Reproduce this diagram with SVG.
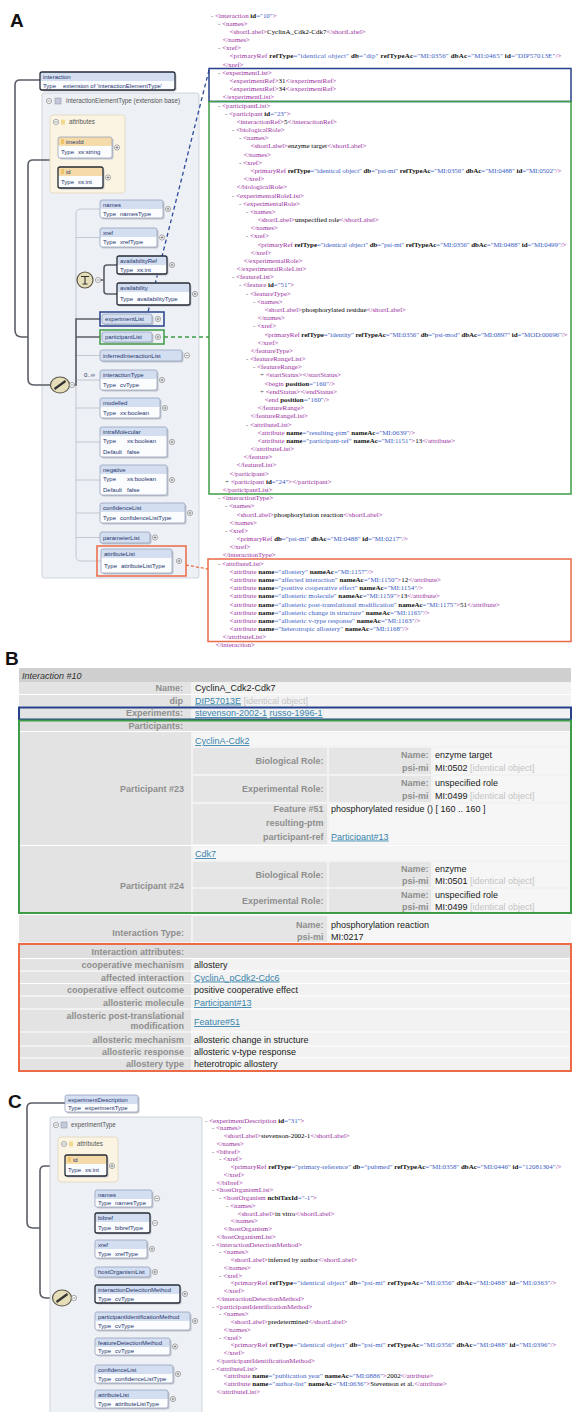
<svg xmlns="http://www.w3.org/2000/svg" width="573" height="1412" viewBox="0 0 573 1412">
<style>
.xm{font-family:"Liberation Serif","Times New Roman",serif;font-size:6.95px}
.t{fill:#9b2fa0}
.a{font-weight:bold;fill:#111}
.v{fill:#3b5cc4}
.m{fill:#555}
.sb{font-family:"Liberation Sans",Arial,sans-serif;font-size:6px;fill:#24346e}
.sg{font-family:"Liberation Sans",Arial,sans-serif;font-size:6.3px;fill:#555}
.sh{fill:#c2c6ce}
.bw{fill:#fbfcfe}
.bh{fill:#d3dff0}
.bo{fill:none;stroke:#8c9ab6;stroke-width:0.7}
.bd{fill:none;stroke:#262b36;stroke-width:1.3}
.lt{fill:none;stroke:#bfc4cc;stroke-width:0.9}
.dk{fill:none;stroke:#5a5e66;stroke-width:1.6}
.pl{font-family:"Liberation Sans",Arial,sans-serif;font-size:9px}
.lb{font-weight:bold;fill:#8e8e8e;text-anchor:end}
.vl{fill:#1a1a1a}
.lk{fill:#3a85ad;text-decoration:underline}
.io{fill:#c4c4c4}
.big{font-family:"Liberation Sans",Arial,sans-serif;font-weight:bold;font-size:19px;fill:#111}
.c1{fill:#e5e5e5}
.c2{fill:#f6f6f6}
.sep{stroke:#fff;stroke-width:1.2}
</style>
<defs>
<g id="pl"><circle r="2.6" fill="#fff" stroke="#707070" stroke-width="0.6"/><path d="M-1.5,0H1.5M0,-1.5V1.5" stroke="#555" stroke-width="0.6"/></g>
<g id="mn"><circle r="2.6" fill="#fff" stroke="#707070" stroke-width="0.6"/><path d="M-1.5,0H1.5" stroke="#555" stroke-width="0.6"/></g>
</defs>
<rect width="573" height="1412" fill="#fff"/>
<text class="big" x="10" y="27">A</text>
<text class="big" x="5" y="665">B</text>
<text class="big" x="8" y="1108">C</text>

<!-- Panel A schema -->
<g id="panel-interactionElementType">
<rect x="42" y="93" width="157" height="485" rx="2" fill="#edf0f5" stroke="#c5cad3" stroke-width="0.8"/>
<use href="#mn" x="49" y="101"/>
<rect x="55" y="98" width="6" height="6" fill="#c3c9da" stroke="#8a90a0" stroke-width="0.5"/>
<text class="sg" x="66" y="103.2">interactionElementType (extension base)</text>
</g>
<g id="connectors">
<path class="dk" d="M40,80 H20 Q15,80 15,85 V330 Q15,337 22,337 H28"/>
<path class="dk" d="M50,160 H33 Q28,160 28,165 V379 Q28,385 34,385 H51"/>
<path class="lt" d="M100,209 H81 Q76,209 76,214 V556 Q76,561 81,561 H101"/>
<path class="lt" d="M76,237.5 H100 M76,280 H77 M76,355.5 H100 M76,380 H100 M76,408 H100 M76,442 H100 M76,480 H100 M76,513 H100 M76,537.5 H100"/>
<path class="dk" d="M74.5,385 H76 V319 H100 M76,337 H100"/>
<path class="dk" d="M100.5,280 H104 V268 Q104,265 107,265 H117 M104,280 V291 Q104,294 107,294 H117"/>
<path d="M209,70 L148,312" fill="none" stroke="#2f4a9a" stroke-width="1.3" stroke-dasharray="4,3"/>
<path d="M164,337 H209" fill="none" stroke="#3f9c46" stroke-width="1.3" stroke-dasharray="4,3"/>
<path d="M186,565 L208,569" fill="none" stroke="#ec6a45" stroke-width="1.3" stroke-dasharray="3,2"/>
<path class="dk" d="M65,1103 H32 Q27,1103 27,1108 V1222 Q27,1228 33,1228 H40"/>
<path class="dk" d="M65,1166 H45 Q40,1166 40,1171 V1292 Q40,1298 46,1298 H53"/>
<path class="lt" d="M95,1198 H91 Q86,1198 86,1203 V1394 Q86,1399 91,1399 H95"/>
<path class="lt" d="M86,1249 H95 M86,1272 H95 M86,1321 H95 M86,1346.5 H95 M86,1374 H95"/>
<path class="dk" d="M76.5,1298 H82 V1223 H95 M82,1294 H95"/>
</g>

<g id="n-interaction">
<rect class="sh" x="41.5" y="73.5" width="135" height="18" rx="2"/><rect class="bw" x="40" y="72" width="135" height="18" rx="2"/><rect class="bh" x="40" y="72" width="135" height="9" rx="2"/><rect class="bd" x="40" y="72" width="135" height="18" rx="2"/>
<text class="sb" x="43" y="79">interaction</text><text class="sb" x="43" y="87.6">Type</text><text class="sb" x="63" y="87.6">extension of 'interactionElementType'</text>
</g>
<g id="n-attributes">
<rect x="50" y="115" width="75" height="78" rx="3" fill="#fbf4e2" stroke="#e0d5ba" stroke-width="0.8"/>
<use href="#mn" x="56" y="122"/>
<rect x="61" y="119.5" width="4" height="5" fill="#f3d98f"/>
<text class="sg" x="69" y="124.2">attributes</text>
</g>
<g id="n-imexId">
<rect class="sh" x="59.5" y="138.5" width="54" height="21" rx="2"/><rect class="bw" x="58" y="137" width="54" height="21" rx="2"/><rect x="58" y="137" width="54" height="9" rx="2" fill="#f5dba9"/><rect class="bo" x="58" y="137" width="54" height="21" rx="2"/>
<rect x="61" y="139" width="3" height="5" fill="#eec46a"/>
<text class="sb" x="66" y="144">imexId</text><text class="sb" x="61" y="154.1">Type</text><text class="sb" x="78" y="154.1">xs:string</text>
<use href="#pl" x="117" y="147.5"/>
</g>
<g id="n-id">
<rect class="sh" x="59.5" y="168.5" width="45" height="21" rx="2"/><rect class="bw" x="58" y="167" width="45" height="21" rx="2"/><rect x="58" y="167" width="45" height="9" rx="2" fill="#f5dba9"/><rect class="bd" x="58" y="167" width="45" height="21" rx="2"/>
<rect x="61" y="169" width="3" height="5" fill="#eec46a"/>
<text class="sb" x="66" y="174">id</text><text class="sb" x="61" y="184.1">Type</text><text class="sb" x="78" y="184.1">xs:int</text>
<use href="#pl" x="108" y="177.5"/>
</g>
<g id="n-names">
<rect class="sh" x="101.5" y="201.5" width="63" height="18" rx="2"/><rect class="bw" x="100" y="200" width="63" height="18" rx="2"/><rect class="bh" x="100" y="200" width="63" height="9" rx="2"/><rect class="bo" x="100" y="200" width="63" height="18" rx="2"/>
<text class="sb" x="103" y="207">names</text><text class="sb" x="103" y="215.6">Type</text><text class="sb" x="120" y="215.6">namesType</text>
<use href="#pl" x="168" y="209"/>
</g>
<g id="n-xref">
<rect class="sh" x="101.5" y="229.5" width="57" height="19" rx="2"/><rect class="bw" x="100" y="228" width="57" height="19" rx="2"/><rect class="bh" x="100" y="228" width="57" height="9" rx="2"/><rect class="bo" x="100" y="228" width="57" height="19" rx="2"/>
<text class="sb" x="103" y="235">xref</text><text class="sb" x="103" y="244.1">Type</text><text class="sb" x="120" y="244.1">xrefType</text>
<use href="#pl" x="162" y="237.5"/>
</g>
<g id="n-choice">
<ellipse cx="85" cy="280" rx="8" ry="8" fill="#e6ddb9" stroke="#5c5848" stroke-width="1.2"/>
<path d="M81,276.5 H89 M85,276.5 V284 M82.5,284 H87.5" stroke="#333" stroke-width="1.1" fill="none"/>
<use href="#mn" x="98" y="280"/>
</g>
<g id="n-availabilityRef">
<rect class="sh" x="118.5" y="257.5" width="50" height="18" rx="2"/><rect class="bw" x="117" y="256" width="50" height="18" rx="2"/><rect class="bh" x="117" y="256" width="50" height="9" rx="2"/><rect class="bd" x="117" y="256" width="50" height="18" rx="2"/>
<text class="sb" x="120" y="263">availabilityRef</text><text class="sb" x="120" y="271.6">Type</text><text class="sb" x="137" y="271.6">xs:int</text>
<use href="#pl" x="172" y="265"/>
</g>
<g id="n-availability">
<rect class="sh" x="118.5" y="284.5" width="73" height="22" rx="2"/><rect class="bw" x="117" y="283" width="73" height="22" rx="2"/><rect class="bh" x="117" y="283" width="73" height="9" rx="2"/><rect class="bd" x="117" y="283" width="73" height="22" rx="2"/>
<text class="sb" x="120" y="290">availability</text><text class="sb" x="120" y="300.6">Type</text><text class="sb" x="137" y="300.6">availabilityType</text>
<use href="#pl" x="195" y="294"/>
</g>
<g id="n-experimentList">
<rect class="sh" x="103.5" y="315.5" width="50" height="10" rx="2"/><rect class="bh" x="102" y="314" width="50" height="10" rx="2"/><rect class="bo" x="102" y="314" width="50" height="10" rx="2"/>
<text class="sb" x="105" y="321.1">experimentList</text>
<use href="#pl" x="158" y="319"/>
<rect x="100" y="312" width="64" height="14" fill="none" stroke="#27408b" stroke-width="1.5"/>
</g>
<g id="n-participantList">
<rect class="sh" x="103.5" y="333.5" width="50" height="10" rx="2"/><rect class="bh" x="102" y="332" width="50" height="10" rx="2"/><rect class="bo" x="102" y="332" width="50" height="10" rx="2"/>
<text class="sb" x="105" y="339.1">participantList</text>
<use href="#pl" x="158" y="337"/>
<rect x="100" y="330" width="64" height="14" fill="none" stroke="#3f9c46" stroke-width="1.5"/>
</g>
<g id="n-inferredInteractionList">
<rect class="sh" x="101.5" y="351.5" width="82" height="11" rx="2"/><rect class="bh" x="100" y="350" width="82" height="11" rx="2"/><rect class="bo" x="100" y="350" width="82" height="11" rx="2"/>
<text class="sb" x="103" y="357.6">inferredInteractionList</text>
<use href="#mn" x="187" y="355.5"/>
</g>
<g id="n-interactionType">
<text class="sb" x="84" y="377">0..∞</text>
<rect class="sh" x="101.5" y="371.5" width="57" height="20" rx="2"/><rect class="bw" x="100" y="370" width="57" height="20" rx="2"/><rect class="bh" x="100" y="370" width="57" height="9" rx="2"/><rect class="bo" x="100" y="370" width="57" height="20" rx="2"/>
<text class="sb" x="103" y="377">interactionType</text><text class="sb" x="103" y="386.6">Type</text><text class="sb" x="120" y="386.6">cvType</text>
<use href="#pl" x="162" y="380"/>
</g>
<g id="n-modelled">
<rect class="sh" x="101.5" y="399.5" width="60" height="20" rx="2"/><rect class="bw" x="100" y="398" width="60" height="20" rx="2"/><rect class="bh" x="100" y="398" width="60" height="9" rx="2"/><rect class="bo" x="100" y="398" width="60" height="20" rx="2"/>
<text class="sb" x="103" y="405">modelled</text><text class="sb" x="103" y="414.6">Type</text><text class="sb" x="120" y="414.6">xs:boolean</text>
<use href="#pl" x="165" y="408"/>
</g>
<g id="n-intraMolecular">
<rect class="sh" x="101.5" y="428.5" width="67" height="30" rx="2"/><rect class="bw" x="100" y="427" width="67" height="30" rx="2"/><rect class="bh" x="100" y="427" width="67" height="9" rx="2"/><rect class="bo" x="100" y="427" width="67" height="30" rx="2"/>
<text class="sb" x="103" y="434">intraMolecular</text><text class="sb" x="103" y="443.4">Type</text><text class="sb" x="127" y="443.4">xs:boolean</text><text class="sb" x="103" y="453.9">Default</text><text class="sb" x="127" y="453.9">false</text>
<use href="#pl" x="172" y="442"/>
</g>
<g id="n-negative">
<rect class="sh" x="101.5" y="466.5" width="67" height="30" rx="2"/><rect class="bw" x="100" y="465" width="67" height="30" rx="2"/><rect class="bh" x="100" y="465" width="67" height="9" rx="2"/><rect class="bo" x="100" y="465" width="67" height="30" rx="2"/>
<text class="sb" x="103" y="472">negative</text><text class="sb" x="103" y="481.4">Type</text><text class="sb" x="127" y="481.4">xs:boolean</text><text class="sb" x="103" y="491.9">Default</text><text class="sb" x="127" y="491.9">false</text>
<use href="#pl" x="172" y="480"/>
</g>
<g id="n-confidenceList">
<rect class="sh" x="101.5" y="504.5" width="85" height="20" rx="2"/><rect class="bw" x="100" y="503" width="85" height="20" rx="2"/><rect class="bh" x="100" y="503" width="85" height="9" rx="2"/><rect class="bo" x="100" y="503" width="85" height="20" rx="2"/>
<text class="sb" x="103" y="510">confidenceList</text><text class="sb" x="103" y="519.6">Type</text><text class="sb" x="120" y="519.6">confidenceListType</text>
<use href="#pl" x="190" y="513"/>
</g>
<g id="n-parameterList">
<rect class="sh" x="101.5" y="533.5" width="50" height="11" rx="2"/><rect class="bh" x="100" y="532" width="50" height="11" rx="2"/><rect class="bo" x="100" y="532" width="50" height="11" rx="2"/>
<text class="sb" x="103" y="539.6">parameterList</text>
<use href="#pl" x="155" y="537.5"/>
</g>
<g id="n-attributeList">
<rect class="sh" x="102.5" y="550.5" width="71" height="24" rx="2"/><rect class="bw" x="101" y="549" width="71" height="24" rx="2"/><rect class="bh" x="101" y="549" width="71" height="9" rx="2"/><rect class="bo" x="101" y="549" width="71" height="24" rx="2"/>
<text class="sb" x="104" y="556">attributeList</text><text class="sb" x="104" y="567.6">Type</text><text class="sb" x="121" y="567.6">attributeListType</text>
<use href="#pl" x="179" y="561"/>
<rect x="97" y="546" width="89" height="30" fill="none" stroke="#ec6a45" stroke-width="1.5"/>
</g>
<g id="n-sequenceA">
<ellipse cx="60" cy="385" rx="9.5" ry="8" fill="#e6ddb9" stroke="#5c5848" stroke-width="1.2"/>
<path d="M54.5,389 L65.5,381" stroke="#333" stroke-width="2.2" fill="none"/>
<use href="#mn" x="72" y="385"/>
</g>

<!-- Panel A XML -->
<g id="xmlA" class="xm">
<rect x="209" y="68.5" width="362" height="33" fill="none" stroke="#27408b" stroke-width="1.5"/>
<rect x="209" y="101.5" width="362" height="392.5" fill="none" stroke="#3f9c46" stroke-width="1.5"/>
<rect x="208" y="559" width="363" height="82.5" fill="none" stroke="#ec6a45" stroke-width="1.5"/>
<text x="211" y="17.5"><tspan class="m">- </tspan><tspan class="t">&lt;interaction</tspan> <tspan class="a">id</tspan><tspan class="v">="10"</tspan><tspan class="t">&gt;</tspan></text>
<text x="218" y="25.7"><tspan class="m">- </tspan><tspan class="t">&lt;names&gt;</tspan></text>
<text x="229.5" y="33.9"><tspan class="t">&lt;shortLabel&gt;</tspan>CyclinA_Cdk2-Cdk7<tspan class="t">&lt;/shortLabel&gt;</tspan></text>
<text x="222.5" y="42"><tspan class="t">&lt;/names&gt;</tspan></text>
<text x="218" y="50.2"><tspan class="m">- </tspan><tspan class="t">&lt;xref&gt;</tspan></text>
<text x="229.5" y="58.4" textLength="332"><tspan class="t">&lt;primaryRef</tspan> <tspan class="a">refType</tspan><tspan class="v">="identical object"</tspan> <tspan class="a">db</tspan><tspan class="v">="dip"</tspan> <tspan class="a">refTypeAc</tspan><tspan class="v">="MI:0356"</tspan> <tspan class="a">dbAc</tspan><tspan class="v">="MI:0465"</tspan> <tspan class="a">id</tspan><tspan class="v">="DIP57013E"</tspan><tspan class="t">/&gt;</tspan></text>
<text x="222.5" y="66.6"><tspan class="t">&lt;/xref&gt;</tspan></text>
<text x="218" y="74.8"><tspan class="m">- </tspan><tspan class="t">&lt;experimentList&gt;</tspan></text>
<text x="229.5" y="82.9"><tspan class="t">&lt;experimentRef&gt;</tspan>31<tspan class="t">&lt;/experimentRef&gt;</tspan></text>
<text x="229.5" y="91.1"><tspan class="t">&lt;experimentRef&gt;</tspan>34<tspan class="t">&lt;/experimentRef&gt;</tspan></text>
<text x="222.5" y="99.3"><tspan class="t">&lt;/experimentList&gt;</tspan></text>
<text x="218" y="107.5"><tspan class="m">- </tspan><tspan class="t">&lt;participantList&gt;</tspan></text>
<text x="225" y="115.7"><tspan class="m">- </tspan><tspan class="t">&lt;participant</tspan> <tspan class="a">id</tspan><tspan class="v">="23"</tspan><tspan class="t">&gt;</tspan></text>
<text x="236.5" y="123.8"><tspan class="t">&lt;interactionRef&gt;</tspan>5<tspan class="t">&lt;/interactionRef&gt;</tspan></text>
<text x="232" y="132"><tspan class="m">- </tspan><tspan class="t">&lt;biologicalRole&gt;</tspan></text>
<text x="239" y="140.2"><tspan class="m">- </tspan><tspan class="t">&lt;names&gt;</tspan></text>
<text x="250.5" y="148.4"><tspan class="t">&lt;shortLabel&gt;</tspan>enzyme target<tspan class="t">&lt;/shortLabel&gt;</tspan></text>
<text x="243.5" y="156.6"><tspan class="t">&lt;/names&gt;</tspan></text>
<text x="239" y="164.7"><tspan class="m">- </tspan><tspan class="t">&lt;xref&gt;</tspan></text>
<text x="250.5" y="172.9" textLength="311"><tspan class="t">&lt;primaryRef</tspan> <tspan class="a">refType</tspan><tspan class="v">="identical object"</tspan> <tspan class="a">db</tspan><tspan class="v">="psi-mi"</tspan> <tspan class="a">refTypeAc</tspan><tspan class="v">="MI:0356"</tspan> <tspan class="a">dbAc</tspan><tspan class="v">="MI:0488"</tspan> <tspan class="a">id</tspan><tspan class="v">="MI:0502"</tspan><tspan class="t">/&gt;</tspan></text>
<text x="243.5" y="181.1"><tspan class="t">&lt;/xref&gt;</tspan></text>
<text x="236.5" y="189.3"><tspan class="t">&lt;/biologicalRole&gt;</tspan></text>
<text x="232" y="197.5"><tspan class="m">- </tspan><tspan class="t">&lt;experimentalRoleList&gt;</tspan></text>
<text x="239" y="205.6"><tspan class="m">- </tspan><tspan class="t">&lt;experimentalRole&gt;</tspan></text>
<text x="246" y="213.8"><tspan class="m">- </tspan><tspan class="t">&lt;names&gt;</tspan></text>
<text x="257.5" y="222"><tspan class="t">&lt;shortLabel&gt;</tspan>unspecified role<tspan class="t">&lt;/shortLabel&gt;</tspan></text>
<text x="250.5" y="230.2"><tspan class="t">&lt;/names&gt;</tspan></text>
<text x="246" y="238.4"><tspan class="m">- </tspan><tspan class="t">&lt;xref&gt;</tspan></text>
<text x="257.5" y="246.5" textLength="309"><tspan class="t">&lt;primaryRef</tspan> <tspan class="a">refType</tspan><tspan class="v">="identical object"</tspan> <tspan class="a">db</tspan><tspan class="v">="psi-mi"</tspan> <tspan class="a">refTypeAc</tspan><tspan class="v">="MI:0356"</tspan> <tspan class="a">dbAc</tspan><tspan class="v">="MI:0488"</tspan> <tspan class="a">id</tspan><tspan class="v">="MI:0499"</tspan><tspan class="t">/&gt;</tspan></text>
<text x="250.5" y="254.7"><tspan class="t">&lt;/xref&gt;</tspan></text>
<text x="243.5" y="262.9"><tspan class="t">&lt;/experimentalRole&gt;</tspan></text>
<text x="236.5" y="271.1"><tspan class="t">&lt;/experimentalRoleList&gt;</tspan></text>
<text x="232" y="279.3"><tspan class="m">- </tspan><tspan class="t">&lt;featureList&gt;</tspan></text>
<text x="239" y="287.4"><tspan class="m">- </tspan><tspan class="t">&lt;feature</tspan> <tspan class="a">id</tspan><tspan class="v">="51"</tspan><tspan class="t">&gt;</tspan></text>
<text x="246" y="295.6"><tspan class="m">- </tspan><tspan class="t">&lt;featureType&gt;</tspan></text>
<text x="253" y="303.8"><tspan class="m">- </tspan><tspan class="t">&lt;names&gt;</tspan></text>
<text x="264.5" y="312"><tspan class="t">&lt;shortLabel&gt;</tspan>phosphorylated residue<tspan class="t">&lt;/shortLabel&gt;</tspan></text>
<text x="257.5" y="320.2"><tspan class="t">&lt;/names&gt;</tspan></text>
<text x="253" y="328.3"><tspan class="m">- </tspan><tspan class="t">&lt;xref&gt;</tspan></text>
<text x="264.5" y="336.5" textLength="303"><tspan class="t">&lt;primaryRef</tspan> <tspan class="a">refType</tspan><tspan class="v">="identity"</tspan> <tspan class="a">refTypeAc</tspan><tspan class="v">="MI:0356"</tspan> <tspan class="a">db</tspan><tspan class="v">="psi-mod"</tspan> <tspan class="a">dbAc</tspan><tspan class="v">="MI:0897"</tspan> <tspan class="a">id</tspan><tspan class="v">="MOD:00696"</tspan><tspan class="t">/&gt;</tspan></text>
<text x="257.5" y="344.7"><tspan class="t">&lt;/xref&gt;</tspan></text>
<text x="250.5" y="352.9"><tspan class="t">&lt;/featureType&gt;</tspan></text>
<text x="246" y="361.1"><tspan class="m">- </tspan><tspan class="t">&lt;featureRangeList&gt;</tspan></text>
<text x="253" y="369.2"><tspan class="m">- </tspan><tspan class="t">&lt;featureRange&gt;</tspan></text>
<text x="260" y="377.4"><tspan class="m">+ </tspan><tspan class="t">&lt;startStatus&gt;&lt;/startStatus&gt;</tspan></text>
<text x="264.5" y="385.6"><tspan class="t">&lt;begin</tspan> <tspan class="a">position</tspan><tspan class="v">="160"</tspan><tspan class="t">/&gt;</tspan></text>
<text x="260" y="393.8"><tspan class="m">+ </tspan><tspan class="t">&lt;endStatus&gt;&lt;/endStatus&gt;</tspan></text>
<text x="264.5" y="402"><tspan class="t">&lt;end</tspan> <tspan class="a">position</tspan><tspan class="v">="160"</tspan><tspan class="t">/&gt;</tspan></text>
<text x="257.5" y="410.1"><tspan class="t">&lt;/featureRange&gt;</tspan></text>
<text x="250.5" y="418.3"><tspan class="t">&lt;/featureRangeList&gt;</tspan></text>
<text x="246" y="426.5"><tspan class="m">- </tspan><tspan class="t">&lt;attributeList&gt;</tspan></text>
<text x="257.5" y="434.7"><tspan class="t">&lt;attribute</tspan> <tspan class="a">name</tspan><tspan class="v">="resulting-ptm"</tspan> <tspan class="a">nameAc</tspan><tspan class="v">="MI:0639"</tspan><tspan class="t">/&gt;</tspan></text>
<text x="257.5" y="442.9"><tspan class="t">&lt;attribute</tspan> <tspan class="a">name</tspan><tspan class="v">="participant-ref"</tspan> <tspan class="a">nameAc</tspan><tspan class="v">="MI:1151"</tspan><tspan class="t">&gt;</tspan>13<tspan class="t">&lt;/attribute&gt;</tspan></text>
<text x="250.5" y="451"><tspan class="t">&lt;/attributeList&gt;</tspan></text>
<text x="243.5" y="459.2"><tspan class="t">&lt;/feature&gt;</tspan></text>
<text x="236.5" y="467.4"><tspan class="t">&lt;/featureList&gt;</tspan></text>
<text x="229.5" y="475.6"><tspan class="t">&lt;/participant&gt;</tspan></text>
<text x="225" y="483.8"><tspan class="m">+ </tspan><tspan class="t">&lt;participant</tspan> <tspan class="a">id</tspan><tspan class="v">="24"</tspan><tspan class="t">&gt;&lt;/participant&gt;</tspan></text>
<text x="222.5" y="491.9"><tspan class="t">&lt;/participantList&gt;</tspan></text>
<text x="218" y="500.1"><tspan class="m">- </tspan><tspan class="t">&lt;interactionType&gt;</tspan></text>
<text x="225" y="508.3"><tspan class="m">- </tspan><tspan class="t">&lt;names&gt;</tspan></text>
<text x="236.5" y="516.5"><tspan class="t">&lt;shortLabel&gt;</tspan>phosphorylation reaction<tspan class="t">&lt;/shortLabel&gt;</tspan></text>
<text x="229.5" y="524.7"><tspan class="t">&lt;/names&gt;</tspan></text>
<text x="225" y="532.8"><tspan class="m">- </tspan><tspan class="t">&lt;xref&gt;</tspan></text>
<text x="236.5" y="541"><tspan class="t">&lt;primaryRef</tspan> <tspan class="a">db</tspan><tspan class="v">="psi-mi"</tspan> <tspan class="a">dbAc</tspan><tspan class="v">="MI:0488"</tspan> <tspan class="a">id</tspan><tspan class="v">="MI:0217"</tspan><tspan class="t">/&gt;</tspan></text>
<text x="229.5" y="549.2"><tspan class="t">&lt;/xref&gt;</tspan></text>
<text x="222.5" y="557.4"><tspan class="t">&lt;/interactionType&gt;</tspan></text>
<text x="218" y="565.6"><tspan class="m">- </tspan><tspan class="t">&lt;attributeList&gt;</tspan></text>
<text x="229.5" y="573.7"><tspan class="t">&lt;attribute</tspan> <tspan class="a">name</tspan><tspan class="v">="allostery"</tspan> <tspan class="a">nameAc</tspan><tspan class="v">="MI:1157"</tspan><tspan class="t">/&gt;</tspan></text>
<text x="229.5" y="581.9"><tspan class="t">&lt;attribute</tspan> <tspan class="a">name</tspan><tspan class="v">="affected interaction"</tspan> <tspan class="a">nameAc</tspan><tspan class="v">="MI:1150"</tspan><tspan class="t">&gt;</tspan>12<tspan class="t">&lt;/attribute&gt;</tspan></text>
<text x="229.5" y="590.1"><tspan class="t">&lt;attribute</tspan> <tspan class="a">name</tspan><tspan class="v">="positive cooperative effect"</tspan> <tspan class="a">nameAc</tspan><tspan class="v">="MI:1154"</tspan><tspan class="t">/&gt;</tspan></text>
<text x="229.5" y="598.3"><tspan class="t">&lt;attribute</tspan> <tspan class="a">name</tspan><tspan class="v">="allosteric molecule"</tspan> <tspan class="a">nameAc</tspan><tspan class="v">="MI:1159"</tspan><tspan class="t">&gt;</tspan>13<tspan class="t">&lt;/attribute&gt;</tspan></text>
<text x="229.5" y="606.5"><tspan class="t">&lt;attribute</tspan> <tspan class="a">name</tspan><tspan class="v">="allosteric post-translational modification"</tspan> <tspan class="a">nameAc</tspan><tspan class="v">="MI:1175"</tspan><tspan class="t">&gt;</tspan>51<tspan class="t">&lt;/attribute&gt;</tspan></text>
<text x="229.5" y="614.6"><tspan class="t">&lt;attribute</tspan> <tspan class="a">name</tspan><tspan class="v">="allosteric change in structure"</tspan> <tspan class="a">nameAc</tspan><tspan class="v">="MI:1165"</tspan><tspan class="t">/&gt;</tspan></text>
<text x="229.5" y="622.8"><tspan class="t">&lt;attribute</tspan> <tspan class="a">name</tspan><tspan class="v">="allosteric v-type response"</tspan> <tspan class="a">nameAc</tspan><tspan class="v">="MI:1163"</tspan><tspan class="t">/&gt;</tspan></text>
<text x="229.5" y="631"><tspan class="t">&lt;attribute</tspan> <tspan class="a">name</tspan><tspan class="v">="heterotropic allostery"</tspan> <tspan class="a">nameAc</tspan><tspan class="v">="MI:1168"</tspan><tspan class="t">/&gt;</tspan></text>
<text x="222.5" y="639.2"><tspan class="t">&lt;/attributeList&gt;</tspan></text>
<text x="215.5" y="647.4"><tspan class="t">&lt;/interaction&gt;</tspan></text>
</g>

<!-- Panel B -->
<g id="tableB" class="pl">
<rect x="19" y="668" width="552" height="14" fill="#cfcfcf"/>
<rect x="19" y="682" width="552" height="389" fill="#f2f2f2"/>
<rect x="19" y="682" width="172" height="389" fill="#e3e3e3"/>
<rect x="19" y="720" width="552" height="11.5" fill="#dedede"/>
<rect x="19" y="944" width="552" height="14" fill="#dedede"/>
<rect class="c2" x="193" y="733" width="378" height="13"/>
<rect class="c1" x="193" y="748" width="134" height="26"/><rect class="c1" x="329" y="748" width="102" height="26"/><rect class="c2" x="433" y="748" width="138" height="26"/>
<rect class="c1" x="193" y="776" width="134" height="26"/><rect class="c1" x="329" y="776" width="102" height="26"/><rect class="c2" x="433" y="776" width="138" height="26"/>
<rect class="c1" x="193" y="804" width="134" height="40"/><rect class="c2" x="329" y="804" width="242" height="40"/>
<rect class="c2" x="193" y="847" width="378" height="13"/>
<rect class="c1" x="193" y="862" width="134" height="25"/><rect class="c1" x="329" y="862" width="102" height="25"/><rect class="c2" x="433" y="862" width="138" height="25"/>
<rect class="c1" x="193" y="889" width="134" height="24"/><rect class="c1" x="329" y="889" width="102" height="24"/><rect class="c2" x="433" y="889" width="138" height="24"/>
<rect class="c1" x="193" y="916" width="134" height="26"/><rect class="c2" x="329" y="916" width="242" height="26"/>
<path class="sep" d="M19,694.5H571M19,707H571M19,719.5H571M19,731.5H571M19,845.5H571M19,914.5H571M19,943H571M19,958.5H571M19,971H571M19,983.5H571M19,996H571M19,1009H571M19,1032H571M19,1046H571M19,1058H571"/>
<text x="22" y="678.5" font-style="italic" fill="#333">Interaction #10</text>
<text class="lb" x="183" y="691">Name:</text><text class="vl" x="195" y="691">CyclinA_Cdk2-Cdk7</text>
<text class="lb" x="183" y="703.5">dip</text><text x="195" y="703.5"><tspan class="lk">DIP57013E</tspan> <tspan class="io">[identical object]</tspan></text>
<text class="lb" x="183" y="716">Experiments:</text><text x="195" y="716"><tspan class="lk">stevenson-2002-1</tspan> <tspan class="lk">russo-1996-1</tspan></text>
<text class="lb" x="183" y="728.5">Participants:</text>
<text class="lb" x="184" y="792">Participant #23</text>
<text class="lk" x="195" y="744">CyclinA-Cdk2</text>
<text class="lb" x="323.5" y="764">Biological Role:</text>
<text class="lb" x="428.5" y="758">Name:</text><text class="vl" x="435" y="758">enzyme target</text>
<text class="lb" x="428.5" y="770.5">psi-mi</text><text x="435" y="770.5"><tspan class="vl">MI:0502</tspan> <tspan class="io">[identical object]</tspan></text>
<text class="lb" x="323.5" y="792">Experimental Role:</text>
<text class="lb" x="428.5" y="786">Name:</text><text class="vl" x="435" y="786">unspecified role</text>
<text class="lb" x="428.5" y="798.5">psi-mi</text><text x="435" y="798.5"><tspan class="vl">MI:0499</tspan> <tspan class="io">[identical object]</tspan></text>
<text class="lb" x="323.5" y="811.5">Feature #51</text><text class="vl" x="331" y="811.5">phosphorylated residue () [ 160 .. 160 ]</text>
<text class="lb" x="323.5" y="825.5">resulting-ptm</text>
<text class="lb" x="323.5" y="839.5">participant-ref</text><text class="lk" x="331" y="839.5">Participant#13</text>
<text class="lb" x="184" y="889">Participant #24</text>
<text class="lk" x="195" y="857">Cdk7</text>
<text class="lb" x="323.5" y="877.5">Biological Role:</text>
<text class="lb" x="428.5" y="871.5">Name:</text><text class="vl" x="435" y="871.5">enzyme</text>
<text class="lb" x="428.5" y="883.5">psi-mi</text><text x="435" y="883.5"><tspan class="vl">MI:0501</tspan> <tspan class="io">[identical object]</tspan></text>
<text class="lb" x="323.5" y="903.5">Experimental Role:</text>
<text class="lb" x="428.5" y="897.5">Name:</text><text class="vl" x="435" y="897.5">unspecified role</text>
<text class="lb" x="428.5" y="909.5">psi-mi</text><text x="435" y="909.5"><tspan class="vl">MI:0499</tspan> <tspan class="io">[identical object]</tspan></text>
<text class="lb" x="184" y="936">Interaction Type:</text>
<text class="lb" x="323.5" y="928">Name:</text><text class="vl" x="331" y="928">phosphorylation reaction</text>
<text class="lb" x="323.5" y="940">psi-mi</text><text class="vl" x="331" y="940">MI:0217</text>
<text class="lb" x="184" y="955">Interaction attributes:</text>
<text class="lb" x="184" y="968">cooperative mechanism</text><text class="vl" x="194" y="968">allostery</text>
<text class="lb" x="184" y="980.5">affected interaction</text><text class="lk" x="194" y="980.5">CyclinA_pCdk2-Cdc6</text>
<text class="lb" x="184" y="993">cooperative effect outcome</text><text class="vl" x="194" y="993">positive cooperative effect</text>
<text class="lb" x="184" y="1006">allosteric molecule</text><text class="lk" x="194" y="1006">Participant#13</text>
<text class="lb" x="184" y="1018.5">allosteric post-translational</text><text class="lb" x="184" y="1028.5">modification</text><text class="lk" x="194" y="1025">Feature#51</text>
<text class="lb" x="184" y="1043">allosteric mechanism</text><text class="vl" x="194" y="1043">allosteric change in structure</text>
<text class="lb" x="184" y="1055">allosteric response</text><text class="vl" x="194" y="1055">allosteric v-type response</text>
<text class="lb" x="184" y="1067">allostery type</text><text class="vl" x="194" y="1067">heterotropic allostery</text>
<rect x="19" y="707.5" width="552" height="12" fill="none" stroke="#27408b" stroke-width="2"/>
<rect x="19" y="720.5" width="552" height="192.5" fill="none" stroke="#3f9c46" stroke-width="2"/>
<rect x="19" y="944" width="552" height="127" fill="none" stroke="#ec6a45" stroke-width="2"/>
</g>

<!-- Panel C schema -->
<g id="panel-experimentType">
<rect x="50" y="1117" width="152" height="300" rx="2" fill="#edf0f5" stroke="#c5cad3" stroke-width="0.8"/>
<use href="#mn" x="56" y="1125"/>
<rect x="61" y="1122" width="6" height="6" fill="#c3c9da" stroke="#8a90a0" stroke-width="0.5"/>
<text class="sg" x="71" y="1127.2">experimentType</text>
</g>
<g id="n-experimentDescription">
<rect class="sh" x="66.5" y="1096.5" width="73" height="17" rx="2"/><rect class="bw" x="65" y="1095" width="73" height="17" rx="2"/><rect class="bh" x="65" y="1095" width="73" height="9" rx="2"/><rect class="bo" x="65" y="1095" width="73" height="17" rx="2"/>
<text class="sb" x="68" y="1102">experimentDescription</text><text class="sb" x="68" y="1110.1">Type</text><text class="sb" x="85" y="1110.1">experimentType</text>
</g>
<g id="n-attributesC">
<rect x="58" y="1137" width="60" height="45" rx="3" fill="#fbf4e2" stroke="#e0d5ba" stroke-width="0.8"/>
<use href="#mn" x="64" y="1144"/>
<rect x="69" y="1141.5" width="4" height="5" fill="#f3d98f"/>
<text class="sg" x="77" y="1146.2">attributes</text>
</g>
<g id="n-idC">
<rect class="sh" x="66.5" y="1156.5" width="42" height="21" rx="2"/><rect class="bw" x="65" y="1155" width="42" height="21" rx="2"/><rect x="65" y="1155" width="42" height="9" rx="2" fill="#f5dba9"/><rect class="bd" x="65" y="1155" width="42" height="21" rx="2"/>
<rect x="68" y="1157" width="3" height="5" fill="#eec46a"/>
<text class="sb" x="73" y="1162">id</text><text class="sb" x="68" y="1172.1">Type</text><text class="sb" x="85" y="1172.1">xs:int</text>
<use href="#pl" x="112" y="1166"/>
</g>
<g id="n-sequenceC">
<ellipse cx="62" cy="1298" rx="9.5" ry="8" fill="#e6ddb9" stroke="#5c5848" stroke-width="1.2"/>
<path d="M56.5,1302 L67.5,1294" stroke="#333" stroke-width="2.2" fill="none"/>
<use href="#mn" x="74" y="1298"/>
</g>
<g id="n-namesC">
<rect class="sh" x="96.5" y="1191.5" width="57" height="17" rx="2"/><rect class="bw" x="95" y="1190" width="57" height="17" rx="2"/><rect class="bh" x="95" y="1190" width="57" height="9" rx="2"/><rect class="bo" x="95" y="1190" width="57" height="17" rx="2"/>
<text class="sb" x="98" y="1197">names</text><text class="sb" x="98" y="1205.1">Type</text><text class="sb" x="115" y="1205.1">namesType</text>
<use href="#mn" x="157" y="1198.5"/>
</g>
<g id="n-bibref">
<rect class="sh" x="96.5" y="1214.5" width="55" height="20" rx="2"/><rect class="bw" x="95" y="1213" width="55" height="20" rx="2"/><rect class="bh" x="95" y="1213" width="55" height="9" rx="2"/><rect class="bd" x="95" y="1213" width="55" height="20" rx="2"/>
<text class="sb" x="98" y="1220">bibref</text><text class="sb" x="98" y="1229.6">Type</text><text class="sb" x="115" y="1229.6">bibrefType</text>
<use href="#mn" x="155" y="1223"/>
</g>
<g id="n-xrefC">
<rect class="sh" x="96.5" y="1241.5" width="52" height="18" rx="2"/><rect class="bw" x="95" y="1240" width="52" height="18" rx="2"/><rect class="bh" x="95" y="1240" width="52" height="9" rx="2"/><rect class="bo" x="95" y="1240" width="52" height="18" rx="2"/>
<text class="sb" x="98" y="1247">xref</text><text class="sb" x="98" y="1255.6">Type</text><text class="sb" x="115" y="1255.6">xrefType</text>
<use href="#pl" x="152" y="1249"/>
</g>
<g id="n-hostOrganismList">
<rect class="sh" x="96.5" y="1268.5" width="55" height="10" rx="2"/><rect class="bh" x="95" y="1267" width="55" height="10" rx="2"/><rect class="bo" x="95" y="1267" width="55" height="10" rx="2"/>
<text class="sb" x="98" y="1274.1">hostOrganismList</text>
<use href="#pl" x="155" y="1272"/>
</g>
<g id="n-interactionDetectionMethod">
<rect class="sh" x="96.5" y="1286.5" width="85" height="18" rx="2"/><rect class="bw" x="95" y="1285" width="85" height="18" rx="2"/><rect class="bh" x="95" y="1285" width="85" height="9" rx="2"/><rect class="bd" x="95" y="1285" width="85" height="18" rx="2"/>
<text class="sb" x="98" y="1292">interactionDetectionMethod</text><text class="sb" x="98" y="1300.6">Type</text><text class="sb" x="115" y="1300.6">cvType</text>
<use href="#pl" x="185" y="1294"/>
</g>
<g id="n-participantIdentificationMethod">
<rect class="sh" x="96.5" y="1313.5" width="95" height="18" rx="2"/><rect class="bw" x="95" y="1312" width="95" height="18" rx="2"/><rect class="bh" x="95" y="1312" width="95" height="9" rx="2"/><rect class="bo" x="95" y="1312" width="95" height="18" rx="2"/>
<text class="sb" x="98" y="1319">participantIdentificationMethod</text><text class="sb" x="98" y="1327.6">Type</text><text class="sb" x="115" y="1327.6">cvType</text>
<use href="#pl" x="195" y="1321"/>
</g>
<g id="n-featureDetectionMethod">
<rect class="sh" x="96.5" y="1339.5" width="75" height="17" rx="2"/><rect class="bw" x="95" y="1338" width="75" height="17" rx="2"/><rect class="bh" x="95" y="1338" width="75" height="9" rx="2"/><rect class="bo" x="95" y="1338" width="75" height="17" rx="2"/>
<text class="sb" x="98" y="1345">featureDetectionMethod</text><text class="sb" x="98" y="1353.1">Type</text><text class="sb" x="115" y="1353.1">cvType</text>
<use href="#pl" x="175" y="1346.5"/>
</g>
<g id="n-confidenceListC">
<rect class="sh" x="96.5" y="1366.5" width="78" height="18" rx="2"/><rect class="bw" x="95" y="1365" width="78" height="18" rx="2"/><rect class="bh" x="95" y="1365" width="78" height="9" rx="2"/><rect class="bo" x="95" y="1365" width="78" height="18" rx="2"/>
<text class="sb" x="98" y="1372">confidenceList</text><text class="sb" x="98" y="1380.6">Type</text><text class="sb" x="115" y="1380.6">confidenceListType</text>
<use href="#pl" x="178" y="1374"/>
</g>
<g id="n-attributeListC">
<rect class="sh" x="96.5" y="1391.5" width="73" height="18" rx="2"/><rect class="bw" x="95" y="1390" width="73" height="18" rx="2"/><rect class="bh" x="95" y="1390" width="73" height="9" rx="2"/><rect class="bo" x="95" y="1390" width="73" height="18" rx="2"/>
<text class="sb" x="98" y="1397">attributeList</text><text class="sb" x="98" y="1405.6">Type</text><text class="sb" x="115" y="1405.6">attributeListType</text>
<use href="#pl" x="173" y="1399"/>
</g>

<!-- Panel C XML -->
<g id="xmlC" class="xm">
<text x="205" y="1122.5"><tspan class="m">- </tspan><tspan class="t">&lt;experimentDescription</tspan> <tspan class="a">id</tspan><tspan class="v">="31"</tspan><tspan class="t">&gt;</tspan></text>
<text x="212" y="1130.3"><tspan class="m">- </tspan><tspan class="t">&lt;names&gt;</tspan></text>
<text x="223.5" y="1138"><tspan class="t">&lt;shortLabel&gt;</tspan>stevenson-2002-1<tspan class="t">&lt;/shortLabel&gt;</tspan></text>
<text x="216.5" y="1145.8"><tspan class="t">&lt;/names&gt;</tspan></text>
<text x="212" y="1153.5"><tspan class="m">- </tspan><tspan class="t">&lt;bibref&gt;</tspan></text>
<text x="219" y="1161.3"><tspan class="m">- </tspan><tspan class="t">&lt;xref&gt;</tspan></text>
<text x="230.5" y="1169" textLength="331"><tspan class="t">&lt;primaryRef</tspan> <tspan class="a">refType</tspan><tspan class="v">="primary-reference"</tspan> <tspan class="a">db</tspan><tspan class="v">="pubmed"</tspan> <tspan class="a">refTypeAc</tspan><tspan class="v">="MI:0358"</tspan> <tspan class="a">dbAc</tspan><tspan class="v">="MI:0446"</tspan> <tspan class="a">id</tspan><tspan class="v">="12081304"</tspan><tspan class="t">/&gt;</tspan></text>
<text x="223.5" y="1176.8"><tspan class="t">&lt;/xref&gt;</tspan></text>
<text x="216.5" y="1184.5"><tspan class="t">&lt;/bibref&gt;</tspan></text>
<text x="212" y="1192.3"><tspan class="m">- </tspan><tspan class="t">&lt;hostOrganismList&gt;</tspan></text>
<text x="219" y="1200"><tspan class="m">- </tspan><tspan class="t">&lt;hostOrganism</tspan> <tspan class="a">ncbiTaxId</tspan><tspan class="v">="-1"</tspan><tspan class="t">&gt;</tspan></text>
<text x="226" y="1207.8"><tspan class="m">- </tspan><tspan class="t">&lt;names&gt;</tspan></text>
<text x="237.5" y="1215.5"><tspan class="t">&lt;shortLabel&gt;</tspan>in vitro<tspan class="t">&lt;/shortLabel&gt;</tspan></text>
<text x="230.5" y="1223.3"><tspan class="t">&lt;/names&gt;</tspan></text>
<text x="223.5" y="1231"><tspan class="t">&lt;/hostOrganism&gt;</tspan></text>
<text x="216.5" y="1238.8"><tspan class="t">&lt;/hostOrganismList&gt;</tspan></text>
<text x="212" y="1246.5"><tspan class="m">- </tspan><tspan class="t">&lt;interactionDetectionMethod&gt;</tspan></text>
<text x="219" y="1254.3"><tspan class="m">- </tspan><tspan class="t">&lt;names&gt;</tspan></text>
<text x="230.5" y="1262"><tspan class="t">&lt;shortLabel&gt;</tspan>inferred by author<tspan class="t">&lt;/shortLabel&gt;</tspan></text>
<text x="223.5" y="1269.8"><tspan class="t">&lt;/names&gt;</tspan></text>
<text x="219" y="1277.5"><tspan class="m">- </tspan><tspan class="t">&lt;xref&gt;</tspan></text>
<text x="230.5" y="1285.3" textLength="326"><tspan class="t">&lt;primaryRef</tspan> <tspan class="a">refType</tspan><tspan class="v">="identical object"</tspan> <tspan class="a">db</tspan><tspan class="v">="psi-mi"</tspan> <tspan class="a">refTypeAc</tspan><tspan class="v">="MI:0356"</tspan> <tspan class="a">dbAc</tspan><tspan class="v">="MI:0488"</tspan> <tspan class="a">id</tspan><tspan class="v">="MI:0363"</tspan><tspan class="t">/&gt;</tspan></text>
<text x="223.5" y="1293"><tspan class="t">&lt;/xref&gt;</tspan></text>
<text x="216.5" y="1300.8"><tspan class="t">&lt;/interactionDetectionMethod&gt;</tspan></text>
<text x="212" y="1308.5"><tspan class="m">- </tspan><tspan class="t">&lt;participantIdentificationMethod&gt;</tspan></text>
<text x="219" y="1316.3"><tspan class="m">- </tspan><tspan class="t">&lt;names&gt;</tspan></text>
<text x="230.5" y="1324"><tspan class="t">&lt;shortLabel&gt;</tspan>predetermined<tspan class="t">&lt;/shortLabel&gt;</tspan></text>
<text x="223.5" y="1331.8"><tspan class="t">&lt;/names&gt;</tspan></text>
<text x="219" y="1339.5"><tspan class="m">- </tspan><tspan class="t">&lt;xref&gt;</tspan></text>
<text x="230.5" y="1347.3" textLength="326"><tspan class="t">&lt;primaryRef</tspan> <tspan class="a">refType</tspan><tspan class="v">="identical object"</tspan> <tspan class="a">db</tspan><tspan class="v">="psi-mi"</tspan> <tspan class="a">refTypeAc</tspan><tspan class="v">="MI:0356"</tspan> <tspan class="a">dbAc</tspan><tspan class="v">="MI:0488"</tspan> <tspan class="a">id</tspan><tspan class="v">="MI:0396"</tspan><tspan class="t">/&gt;</tspan></text>
<text x="223.5" y="1355"><tspan class="t">&lt;/xref&gt;</tspan></text>
<text x="216.5" y="1362.8"><tspan class="t">&lt;/participantIdentificationMethod&gt;</tspan></text>
<text x="212" y="1370.5"><tspan class="m">- </tspan><tspan class="t">&lt;attributeList&gt;</tspan></text>
<text x="223.5" y="1378.3"><tspan class="t">&lt;attribute</tspan> <tspan class="a">name</tspan><tspan class="v">="publication year"</tspan> <tspan class="a">nameAc</tspan><tspan class="v">="MI:0886"</tspan><tspan class="t">&gt;</tspan>2002<tspan class="t">&lt;/attribute&gt;</tspan></text>
<text x="223.5" y="1386"><tspan class="t">&lt;attribute</tspan> <tspan class="a">name</tspan><tspan class="v">="author-list"</tspan> <tspan class="a">nameAc</tspan><tspan class="v">="MI:0636"</tspan><tspan class="t">&gt;</tspan>Stevenson et al.<tspan class="t">&lt;/attribute&gt;</tspan></text>
<text x="216.5" y="1393.8"><tspan class="t">&lt;/attributeList&gt;</tspan></text>
</g>
</svg>
